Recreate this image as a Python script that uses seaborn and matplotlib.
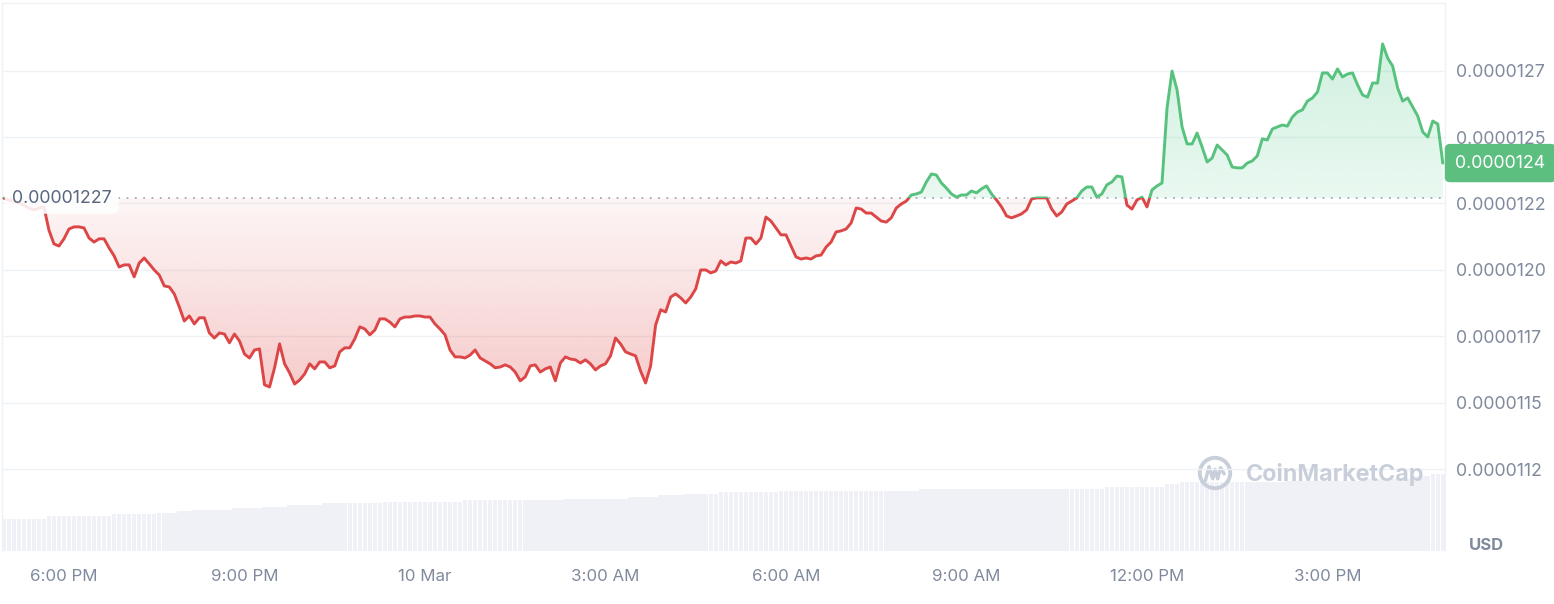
import numpy as np
import pandas as pd
import matplotlib
matplotlib.use('Agg')
import matplotlib.pyplot as plt
import matplotlib.dates as mdates
from matplotlib.patches import Rectangle
from matplotlib.path import Path
import seaborn as sns

# price every 5 minutes, in units of 1e-8 USD (1227.0 -> 0.00001227)
price_e8 = [
    1227.0, 1226.3, 1225.9, 1225.2, 1224.4, 1223.3, 1222.6, 1223.3, 1223.7, 1215.0, 1209.8, 1209.0,
    1211.7, 1215.4, 1216.2, 1216.2, 1215.8, 1212.0, 1210.5, 1211.7, 1211.7, 1208.3, 1205.3, 1201.1,
    1201.9, 1201.9, 1197.4, 1202.6, 1204.5, 1202.3, 1200.0, 1198.1, 1194.0, 1193.6, 1191.0, 1186.1,
    1180.8, 1182.7, 1179.7, 1182.0, 1182.0, 1176.3, 1174.4, 1176.3, 1175.9, 1172.6, 1175.9, 1173.3,
    1168.4, 1166.9, 1169.9, 1170.3, 1156.8, 1156.0, 1163.2, 1172.2, 1164.7, 1161.3, 1157.1, 1158.6,
    1160.9, 1164.7, 1162.8, 1165.4, 1165.4, 1163.2, 1163.9, 1169.2, 1170.7, 1170.7, 1174.1, 1178.6,
    1177.8, 1175.6, 1177.4, 1181.6, 1181.6, 1180.4, 1178.6, 1181.6, 1182.3, 1182.3, 1182.7, 1182.7,
    1182.3, 1182.3, 1179.7, 1177.8, 1175.6, 1169.9, 1167.3, 1167.3, 1166.9, 1168.0, 1169.9, 1166.9,
    1165.8, 1164.7, 1163.2, 1163.5, 1164.3, 1163.5, 1161.6, 1158.3, 1159.8, 1163.9, 1164.3, 1161.6,
    1162.8, 1163.5, 1158.3, 1165.0, 1167.3, 1166.5, 1166.2, 1165.0, 1166.2, 1164.7, 1162.4, 1163.9,
    1164.7, 1167.7, 1174.4, 1172.2, 1169.2, 1168.4, 1167.7, 1162.0, 1157.5, 1163.9, 1179.3, 1185.0,
    1184.2, 1189.8, 1191.0, 1189.5, 1187.6, 1189.8, 1192.9, 1200.0, 1200.0, 1198.9, 1199.6, 1203.4,
    1201.9, 1203.0, 1202.6, 1203.4, 1212.0, 1212.0, 1209.8, 1212.0, 1219.9, 1218.4, 1215.8, 1213.2,
    1213.2, 1209.0, 1204.9, 1204.1, 1204.5, 1204.1, 1205.3, 1205.6, 1208.6, 1210.5, 1214.3, 1214.7,
    1215.4, 1217.7, 1223.3, 1222.9, 1221.4, 1221.4, 1219.9, 1218.4, 1218.0, 1219.6, 1223.3, 1224.8,
    1225.9, 1228.2, 1228.6, 1229.3, 1233.1, 1236.1, 1235.7, 1232.7, 1230.8, 1228.6, 1227.4, 1228.2,
    1228.2, 1229.7, 1229.0, 1230.5, 1231.6, 1228.6, 1226.3, 1223.7, 1220.3, 1219.6, 1220.3, 1221.1,
    1222.6, 1226.7, 1227.1, 1227.1, 1227.1, 1222.9, 1220.3, 1221.8, 1224.8, 1225.9, 1227.1, 1229.7,
    1231.2, 1231.2, 1227.4, 1228.6, 1232.0, 1233.1, 1235.3, 1235.0, 1224.4, 1222.9, 1226.3, 1227.4,
    1223.7, 1230.1, 1231.6, 1232.7, 1260.9, 1274.8, 1267.7, 1253.8, 1247.4, 1247.4, 1251.5, 1246.2,
    1240.6, 1242.1, 1247.0, 1245.1, 1243.2, 1238.7, 1238.4, 1238.4, 1240.2, 1241.0, 1242.9, 1249.3,
    1248.9, 1253.0, 1253.8, 1254.5, 1254.1, 1257.5, 1259.4, 1260.2, 1263.5, 1264.7, 1266.9, 1274.1,
    1274.1, 1271.8, 1275.6, 1272.6, 1273.7, 1274.1, 1269.6, 1265.8, 1265.0, 1270.3, 1270.3, 1285.0,
    1279.7, 1276.7, 1268.4, 1263.5, 1264.7, 1261.3, 1257.9, 1251.9, 1250.0, 1256.0, 1254.9, 1240.2,
]

# volume bars come in flat steps: level and number of 5-min bars at that level
vol_levels = [32, 35, 36.7, 38.3, 40, 41, 42.7, 44.3, 46, 48, 49, 51, 52, 54, 55.7,
              57.3, 59, 60.3, 62, 63.7, 66.7, 68.7, 69.5, 70.5, 72, 75, 77]
vol_runs = [9, 13, 9, 4, 3, 8, 6, 5, 7, 12, 16, 20, 13, 6, 5,
            7, 12, 28, 37, 12, 3, 4, 17, 15, 10, 4, 3]

ref_price_e8 = 1227.0
start = '2024-03-09 17:00'

tick_times = ['2024-03-09 18:00', '2024-03-09 21:00', '2024-03-10 00:00', '2024-03-10 03:00',
              '2024-03-10 06:00', '2024-03-10 09:00', '2024-03-10 12:00', '2024-03-10 15:00']
tick_labels = ['6:00 PM', '9:00 PM', '10 Mar', '3:00 AM', '6:00 AM', '9:00 AM', '12:00 PM', '3:00 PM']
ytick_e8 = [1125, 1150, 1175, 1200, 1225, 1250, 1275]
ytick_labels = ['0.0000112', '0.0000115', '0.0000117', '0.0000120',
                '0.0000122', '0.0000125', '0.0000127']

df = pd.DataFrame({
    'time': pd.date_range(start, periods=len(price_e8), freq='5min'),
    'price': np.array(price_e8) * 1e-8,
    'volume': np.repeat(vol_levels, vol_runs),
})
base = ref_price_e8 * 1e-8

green = '#56c27d'
red = '#dc4646'
gray = '#808a9d'

sns.set_theme(style='white')
plt.rcParams['font.family'] = ['Inter', 'DejaVu Sans']

fig = plt.figure(figsize=(15.54, 6.04), dpi=100)
ax = fig.add_axes([2 / 1554, 53 / 604, 1443 / 1554, 548 / 604])
ax2 = ax.twinx()
ax.set_zorder(ax2.get_zorder() + 1)
ax.patch.set_visible(False)

# volume
ax2.bar(df['time'], df['volume'], width=5 / 1440 * 0.9, color='#eff1f6', linewidth=0)
ax2.set_ylim(0, 548)
ax2.set_yticks([])
for s in ax2.spines.values():
    s.set_visible(False)

# gradient areas between price and the reference price
x0 = mdates.date2num(df['time'].iloc[0])
x1 = mdates.date2num(df['time'].iloc[-1])
p = df['price'].values


def gradient_fill(where, rgb, a_base, a_far, y_lo, y_hi, far_top):
    coll = ax.fill_between(df['time'], p, base, where=where, interpolate=True,
                           facecolor='none', edgecolor='none')
    path = Path.make_compound_path(*coll.get_paths())
    alpha = np.linspace(a_base, a_far, 256) if far_top else np.linspace(a_far, a_base, 256)
    img = np.zeros((256, 1, 4))
    img[..., :3] = matplotlib.colors.to_rgb(rgb)
    img[:, 0, 3] = alpha
    im = ax.imshow(img, extent=[x0, x1, y_lo, y_hi], origin='lower', aspect='auto', zorder=1)
    im.set_clip_path(path, transform=ax.transData)


gradient_fill(p <= base, '#e04848', 0.05, 0.28, p.min(), base, far_top=False)
gradient_fill(p >= base, '#3cc47c', 0.11, 0.24, base, p.max(), far_top=True)

# price line, green above the reference, red below
sns.lineplot(data=df, x='time', y='price', ax=ax, color=green, linewidth=2.1, zorder=3)
sns.lineplot(data=df, x='time', y='price', ax=ax, color=red, linewidth=2.1, zorder=3)
line_g, line_r = ax.get_lines()[-2:]
far = x0 - 5
clip_g = Rectangle((far, base), 20, 1, transform=ax.transData)
clip_r = Rectangle((far, base - 1), 20, 1, transform=ax.transData)
line_g.set_clip_path(clip_g)
line_r.set_clip_path(clip_r)

ax.axhline(base, color='#a3aab7', linestyle=(0, (1, 3.6)), linewidth=1.3, zorder=2)

ax.text(0.0068, base, '0.00001227', transform=ax.get_yaxis_transform(), va='center', ha='left',
        fontsize=12.8, color='#58667e', zorder=5,
        bbox=dict(boxstyle='round,pad=0.4', fc='white', ec='none', alpha=0.88))

ax.annotate('0.0000124', xy=(1, p[-1]), xycoords=('axes fraction', 'data'),
            xytext=(7.5, 0), textcoords='offset points', va='center', ha='left',
            fontsize=12.8, color='white', annotation_clip=False,
            bbox=dict(boxstyle='round,pad=0.6,rounding_size=0.3', fc='#5cbf7f', ec='none'))

# axes styling
ax.set_xlim(pd.Timestamp(start) - pd.Timedelta(minutes=1.8),
            pd.Timestamp(start) + pd.Timedelta(minutes=1437.2))
ax.set_ylim(1094.3e-8, 1300.4e-8)
ax.yaxis.tick_right()
ax.set_yticks(np.array(ytick_e8) * 1e-8, ytick_labels)
ax.set_xticks(pd.to_datetime(tick_times), tick_labels)
ax.tick_params(axis='y', length=0, pad=8, labelsize=12.8, labelcolor=gray)
ax.tick_params(axis='x', length=0, pad=13, labelsize=12.2, labelcolor=gray)
ax.set_xlabel('')
ax.set_ylabel('')
ax.grid(axis='y', color='#eff2f5', linewidth=1)
ax.grid(axis='x', visible=False)
for side in ['top', 'left', 'right']:
    ax.spines[side].set_color('#eff2f5')
    ax.spines[side].set_linewidth(1)
ax.spines['bottom'].set_visible(False)

fig.text(1486 / 1554, 1 - 546 / 604, 'USD', ha='center', va='center',
         fontsize=12, fontweight='bold', color=gray)

# watermark: logo (open ring with a wave) and name
wm = '#c9cfda'
logo = fig.add_axes([1196 / 1554, 1 - 492 / 604, 38 / 1554, 38 / 604])
logo.set_xlim(-1.15, 1.15)
logo.set_ylim(-1.15, 1.15)
logo.axis('off')
theta = np.radians(np.arange(-35, 326, 5))
logo.plot(0.92 * np.cos(theta), 0.92 * np.sin(theta), color=wm, lw=2.8,
          solid_capstyle='round')
logo.plot([-0.58, -0.36, -0.14, 0.0, 0.16, 0.34, 0.55],
          [-0.45, 0.38, -0.35, 0.22, -0.35, 0.32, -0.05], color=wm, lw=2.5,
          solid_joinstyle='round', solid_capstyle='round')
fig.text(1246 / 1554, 1 - 475 / 604, 'CoinMarketCap', ha='left', va='center',
         fontsize=16.8, fontweight='bold', color=wm)

fig.savefig('out.png', dpi=100)
